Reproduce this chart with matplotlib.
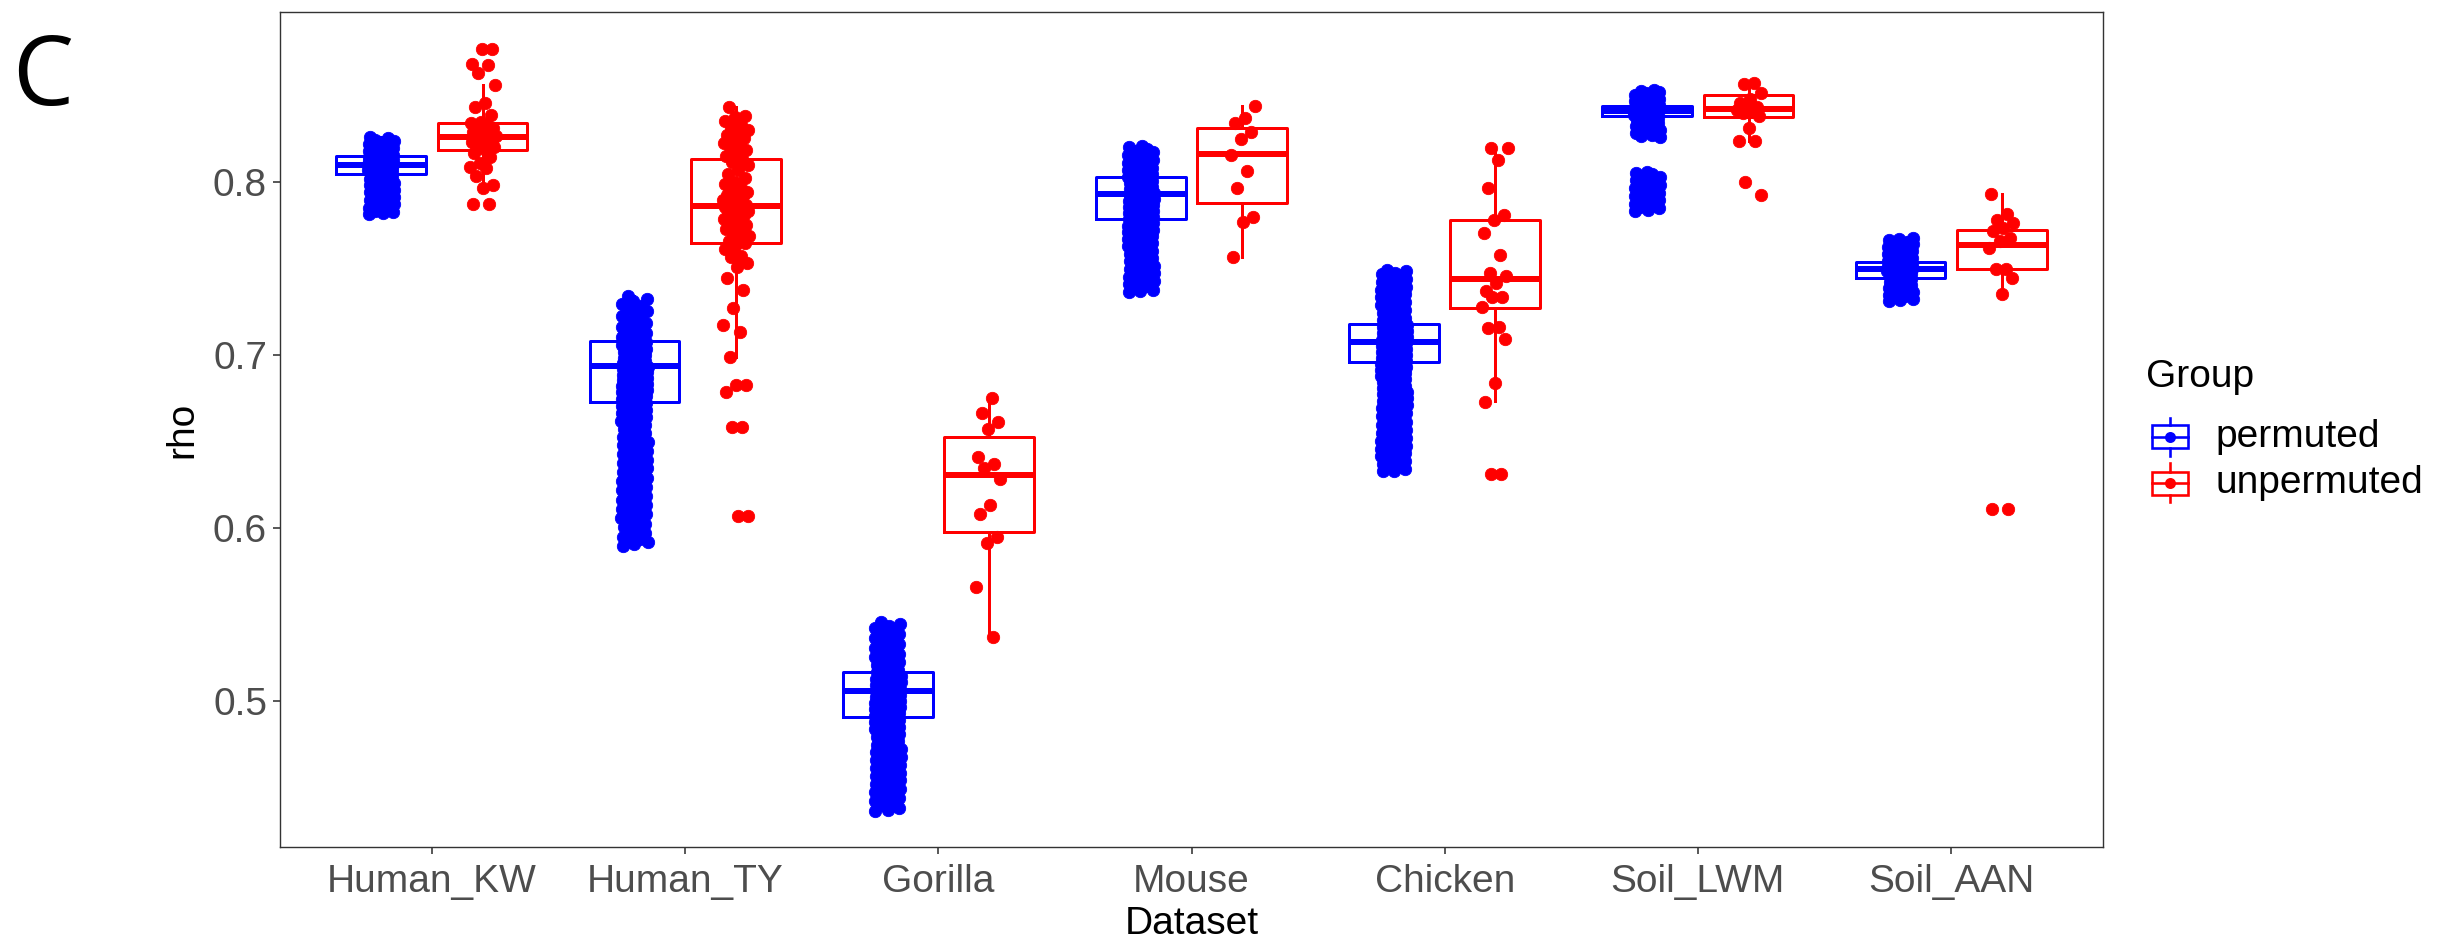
import numpy as np
import matplotlib
matplotlib.use("Agg")
import matplotlib.pyplot as plt
from matplotlib.patches import Rectangle
from matplotlib.lines import Line2D

plt.rcParams['font.family'] = ['Liberation Sans', 'DejaVu Sans']

# ---------------- data ----------------
datasets = ["Human_KW", "Human_TY", "Gorilla", "Mouse", "Chicken", "Soil_LWM", "Soil_AAN"]
groups = ["permuted", "unpermuted"]
group_colors = ["#0000FF", "#FF0000"]
yticks = [0.5, 0.6, 0.7, 0.8]

perm_human_kw = [0.7812, 0.7818, 0.7826, 0.7833, 0.7841, 0.7850, 0.7858, 0.7869, 0.7877, 0.7886, 0.7894,
                 0.7903, 0.7911, 0.7922, 0.7930, 0.7938, 0.7947, 0.7955, 0.7963, 0.7971, 0.7979, 0.7986,
                 0.7994, 0.8001, 0.8008, 0.8014, 0.8021, 0.8027, 0.8033, 0.8039, 0.8044, 0.8049, 0.8054,
                 0.8059, 0.8064, 0.8069, 0.8074, 0.8079, 0.8084, 0.8089, 0.8094, 0.8098, 0.8103, 0.8108,
                 0.8113, 0.8118, 0.8123, 0.8128, 0.8134, 0.8139, 0.8145, 0.8151, 0.8157, 0.8164, 0.8171,
                 0.8178, 0.8186, 0.8194, 0.8202, 0.8211, 0.8219, 0.8228, 0.8236, 0.8244, 0.8251, 0.8258]
perm_human_ty = [0.5897, 0.5905, 0.5916, 0.5928, 0.5937, 0.5949, 0.5958, 0.5970, 0.5981, 0.5990, 0.6002,
                 0.6013, 0.6024, 0.6033, 0.6045, 0.6056, 0.6066, 0.6077, 0.6089, 0.6098, 0.6110, 0.6121,
                 0.6131, 0.6142, 0.6153, 0.6163, 0.6174, 0.6185, 0.6195, 0.6206, 0.6216, 0.6227, 0.6238,
                 0.6248, 0.6259, 0.6269, 0.6280, 0.6290, 0.6301, 0.6311, 0.6322, 0.6332, 0.6343, 0.6353,
                 0.6363, 0.6374, 0.6384, 0.6394, 0.6405, 0.6415, 0.6425, 0.6435, 0.6446, 0.6456, 0.6466,
                 0.6476, 0.6486, 0.6496, 0.6506, 0.6516, 0.6525, 0.6535, 0.6545, 0.6554, 0.6564, 0.6573,
                 0.6583, 0.6592, 0.6601, 0.6611, 0.6620, 0.6629, 0.6638, 0.6647, 0.6656, 0.6664, 0.6673,
                 0.6681, 0.6690, 0.6698, 0.6706, 0.6714, 0.6722, 0.6730, 0.6738, 0.6746, 0.6753, 0.6761,
                 0.6768, 0.6776, 0.6783, 0.6790, 0.6797, 0.6804, 0.6811, 0.6818, 0.6825, 0.6832, 0.6839,
                 0.6845, 0.6852, 0.6859, 0.6865, 0.6872, 0.6878, 0.6885, 0.6891, 0.6898, 0.6904, 0.6911,
                 0.6917, 0.6924, 0.6930, 0.6937, 0.6943, 0.6950, 0.6956, 0.6963, 0.6969, 0.6976, 0.6983,
                 0.6990, 0.6997, 0.7004, 0.7011, 0.7018, 0.7026, 0.7034, 0.7042, 0.7050, 0.7058, 0.7067,
                 0.7076, 0.7085, 0.7094, 0.7104, 0.7114, 0.7125, 0.7136, 0.7147, 0.7159, 0.7171, 0.7184,
                 0.7197, 0.7210, 0.7224, 0.7238, 0.7252, 0.7266, 0.7281, 0.7295, 0.7310, 0.7325, 0.7338]
perm_gorilla = [0.4363, 0.4368, 0.4381, 0.4395, 0.4402, 0.4418, 0.4431, 0.4440, 0.4452, 0.4463, 0.4471,
                0.4482, 0.4493, 0.4502, 0.4512, 0.4521, 0.4531, 0.4540, 0.4549, 0.4558, 0.4567, 0.4576,
                0.4585, 0.4594, 0.4603, 0.4612, 0.4621, 0.4630, 0.4639, 0.4648, 0.4657, 0.4666, 0.4675,
                0.4684, 0.4693, 0.4702, 0.4711, 0.4720, 0.4729, 0.4738, 0.4747, 0.4756, 0.4765, 0.4774,
                0.4783, 0.4792, 0.4801, 0.4809, 0.4818, 0.4826, 0.4835, 0.4843, 0.4851, 0.4859, 0.4867,
                0.4875, 0.4883, 0.4891, 0.4899, 0.4907, 0.4914, 0.4922, 0.4929, 0.4937, 0.4944, 0.4951,
                0.4959, 0.4966, 0.4973, 0.4980, 0.4987, 0.4994, 0.5001, 0.5008, 0.5015, 0.5022, 0.5029,
                0.5036, 0.5043, 0.5050, 0.5057, 0.5064, 0.5071, 0.5078, 0.5085, 0.5092, 0.5099, 0.5106,
                0.5113, 0.5120, 0.5127, 0.5134, 0.5141, 0.5149, 0.5156, 0.5164, 0.5172, 0.5180, 0.5188,
                0.5197, 0.5206, 0.5215, 0.5224, 0.5233, 0.5243, 0.5253, 0.5263, 0.5273, 0.5284, 0.5295,
                0.5306, 0.5317, 0.5328, 0.5339, 0.5350, 0.5362, 0.5373, 0.5385, 0.5397, 0.5409, 0.5421,
                0.5433, 0.5446, 0.5458]
perm_mouse = [0.7363, 0.7368, 0.7377, 0.7389, 0.7398, 0.7407, 0.7416, 0.7425, 0.7434, 0.7443, 0.7452,
              0.7461, 0.7470, 0.7479, 0.7488, 0.7497, 0.7506, 0.7515, 0.7524, 0.7533, 0.7542, 0.7551,
              0.7560, 0.7568, 0.7577, 0.7585, 0.7594, 0.7602, 0.7611, 0.7619, 0.7627, 0.7636, 0.7644,
              0.7652, 0.7660, 0.7668, 0.7676, 0.7684, 0.7692, 0.7700, 0.7708, 0.7716, 0.7723, 0.7731,
              0.7738, 0.7746, 0.7753, 0.7761, 0.7768, 0.7775, 0.7782, 0.7789, 0.7796, 0.7803, 0.7810,
              0.7817, 0.7824, 0.7831, 0.7838, 0.7845, 0.7852, 0.7859, 0.7866, 0.7873, 0.7880, 0.7887,
              0.7894, 0.7901, 0.7908, 0.7915, 0.7922, 0.7929, 0.7936, 0.7943, 0.7950, 0.7957, 0.7964,
              0.7971, 0.7978, 0.7985, 0.7992, 0.7999, 0.8006, 0.8013, 0.8020, 0.8027, 0.8034, 0.8042,
              0.8050, 0.8058, 0.8066, 0.8074, 0.8082, 0.8090, 0.8099, 0.8108, 0.8117, 0.8126, 0.8135,
              0.8144, 0.8153, 0.8162, 0.8171, 0.8180, 0.8189, 0.8198, 0.8204]
perm_chicken = [0.6326, 0.6331, 0.6340, 0.6349, 0.6358, 0.6367, 0.6376, 0.6385, 0.6394, 0.6403, 0.6412,
                0.6421, 0.6430, 0.6439, 0.6448, 0.6457, 0.6466, 0.6475, 0.6484, 0.6493, 0.6502, 0.6511,
                0.6520, 0.6529, 0.6538, 0.6547, 0.6556, 0.6565, 0.6574, 0.6583, 0.6592, 0.6601, 0.6612,
                0.6625, 0.6638, 0.6648, 0.6657, 0.6666, 0.6675, 0.6684, 0.6692, 0.6700, 0.6708, 0.6716,
                0.6724, 0.6732, 0.6740, 0.6748, 0.6756, 0.6764, 0.6771, 0.6779, 0.6786, 0.6794, 0.6801,
                0.6808, 0.6815, 0.6822, 0.6829, 0.6836, 0.6843, 0.6850, 0.6857, 0.6864, 0.6871, 0.6878,
                0.6885, 0.6892, 0.6899, 0.6906, 0.6913, 0.6920, 0.6927, 0.6934, 0.6941, 0.6948, 0.6955,
                0.6962, 0.6969, 0.6976, 0.6983, 0.6990, 0.6997, 0.7004, 0.7011, 0.7018, 0.7025, 0.7032,
                0.7039, 0.7046, 0.7053, 0.7060, 0.7067, 0.7074, 0.7081, 0.7088, 0.7095, 0.7102, 0.7109,
                0.7116, 0.7123, 0.7130, 0.7137, 0.7144, 0.7151, 0.7158, 0.7166, 0.7174, 0.7182, 0.7190,
                0.7198, 0.7206, 0.7214, 0.7223, 0.7232, 0.7241, 0.7250, 0.7259, 0.7268, 0.7277, 0.7286,
                0.7295, 0.7304, 0.7313, 0.7322, 0.7331, 0.7340, 0.7349, 0.7358, 0.7367, 0.7376, 0.7385,
                0.7394, 0.7403, 0.7412, 0.7421, 0.7430, 0.7439, 0.7448, 0.7457, 0.7466, 0.7475, 0.7484,
                0.7491]
perm_soil_lwm = [0.7831, 0.7838, 0.7847, 0.7856, 0.7865, 0.7874, 0.7883, 0.7892, 0.7901, 0.7910, 0.7919,
                 0.7928, 0.7937, 0.7946, 0.7955, 0.7964, 0.7973, 0.7982, 0.7991, 0.8000, 0.8009, 0.8018,
                 0.8027, 0.8036, 0.8045, 0.8052, 0.8057,
                 0.8256, 0.8262, 0.8271, 0.8280, 0.8289, 0.8298, 0.8306, 0.8314, 0.8322, 0.8330, 0.8337,
                 0.8344, 0.8351, 0.8357, 0.8363, 0.8369, 0.8374, 0.8379, 0.8384, 0.8389, 0.8394, 0.8399,
                 0.8404, 0.8409, 0.8414, 0.8419, 0.8424, 0.8429, 0.8434, 0.8439, 0.8445, 0.8451, 0.8457,
                 0.8464, 0.8471, 0.8478, 0.8486, 0.8494, 0.8502, 0.8510, 0.8518, 0.8526, 0.8533]
perm_soil_aan = [0.7310, 0.7316, 0.7324, 0.7332, 0.7340, 0.7348, 0.7356, 0.7364, 0.7372, 0.7380, 0.7387,
                 0.7394, 0.7401, 0.7408, 0.7415, 0.7422, 0.7429, 0.7435, 0.7441, 0.7447, 0.7453, 0.7459,
                 0.7465, 0.7471, 0.7477, 0.7483, 0.7489, 0.7495, 0.7501, 0.7507, 0.7513, 0.7519, 0.7525,
                 0.7531, 0.7537, 0.7544, 0.7551, 0.7558, 0.7566, 0.7574, 0.7582, 0.7590, 0.7598, 0.7606,
                 0.7614, 0.7622, 0.7630, 0.7638, 0.7646, 0.7654, 0.7662, 0.7670, 0.7677]

unperm_human_kw = [0.8767, 0.8765, 0.8680, 0.8672, 0.8627, 0.8560, 0.8454, 0.8431, 0.8386, 0.8347,
                   0.8342, 0.8330, 0.8325, 0.8310, 0.8298, 0.8290, 0.8281, 0.8270, 0.8262, 0.8255,
                   0.8250, 0.8243, 0.8236, 0.8228, 0.8220, 0.8212, 0.8200, 0.8190, 0.8165, 0.8145,
                   0.8110, 0.8087, 0.8078, 0.8034, 0.7981, 0.7962, 0.7872, 0.7870]
unperm_human_ty = [0.8434, 0.8380, 0.8373, 0.8352, 0.8326, 0.8310, 0.8297, 0.8282, 0.8270, 0.8255,
                   0.8240, 0.8225, 0.8215, 0.8200, 0.8185, 0.8170, 0.8150, 0.8134, 0.8113, 0.8095,
                   0.8070, 0.8045, 0.8020, 0.8000, 0.7985, 0.7966, 0.7950, 0.7940, 0.7938, 0.7925,
                   0.7915, 0.7905, 0.7895, 0.7885, 0.7875, 0.7868, 0.7860, 0.7852, 0.7845, 0.7838,
                   0.7830, 0.7822, 0.7812, 0.7805, 0.7795, 0.7785, 0.7775, 0.7762, 0.7750, 0.7735,
                   0.7724, 0.7715, 0.7700, 0.7685, 0.7670, 0.7655, 0.7648, 0.7630, 0.7610, 0.7570,
                   0.7567, 0.7529, 0.7509, 0.7443, 0.7375, 0.7268, 0.7172, 0.7134, 0.6989, 0.6826,
                   0.6826, 0.6782, 0.6584, 0.6584, 0.6068, 0.6066]
unperm_gorilla = [0.6749, 0.6665, 0.6613, 0.6569, 0.6407, 0.6369, 0.6344, 0.6280, 0.6132, 0.6080,
                  0.5945, 0.5910, 0.5656, 0.5370]
unperm_mouse = [0.8438, 0.8367, 0.8338, 0.8290, 0.8246, 0.8155, 0.8064, 0.7962, 0.7795, 0.7769, 0.7567]
unperm_chicken = [0.8194, 0.8194, 0.8126, 0.7962, 0.7808, 0.7779, 0.7702, 0.7577, 0.7475, 0.7455,
                  0.7413, 0.7370, 0.7332, 0.7332, 0.7274, 0.7159, 0.7153, 0.7090, 0.6834, 0.6728,
                  0.6312, 0.6312]
unperm_soil_lwm = [0.8570, 0.8565, 0.8510, 0.8480, 0.8454, 0.8434, 0.8425, 0.8415, 0.8410, 0.8396,
                   0.8380, 0.8310, 0.8238, 0.8238, 0.8000, 0.7924]
unperm_soil_aan = [0.7931, 0.7814, 0.7780, 0.7760, 0.7730, 0.7716, 0.7673, 0.7655, 0.7617, 0.7496,
                   0.7496, 0.7446, 0.7349, 0.6109, 0.6109]

# box statistics (order follows `datasets`)
perm_q1 = [0.8045, 0.6729, 0.4908, 0.7785, 0.6961, 0.8380, 0.7446]
perm_med = [0.8097, 0.6937, 0.5057, 0.7928, 0.7072, 0.8410, 0.7496]
perm_q3 = [0.8150, 0.7082, 0.5165, 0.8030, 0.7179, 0.8440, 0.7534]
perm_whislo = [0.7812, 0.6200, 0.4525, 0.7420, 0.6640, 0.8290, 0.7314]
perm_whishi = [0.8258, 0.7338, 0.5458, 0.8204, 0.7491, 0.8530, 0.7662]

unperm_q1 = [0.8184, 0.7648, 0.5978, 0.7879, 0.7268, 0.8373, 0.7495]
unperm_med = [0.8257, 0.7862, 0.6305, 0.8161, 0.7435, 0.8421, 0.7637]
unperm_q3 = [0.8342, 0.8130, 0.6527, 0.8309, 0.7779, 0.8502, 0.7723]
unperm_whislo = [0.7962, 0.6989, 0.5370, 0.7567, 0.6734, 0.8238, 0.7349]
unperm_whishi = [0.8560, 0.8434, 0.6749, 0.8438, 0.8194, 0.8570, 0.7931]

perm_points = [perm_human_kw, perm_human_ty, perm_gorilla, perm_mouse, perm_chicken, perm_soil_lwm, perm_soil_aan]
unperm_points = [unperm_human_kw, unperm_human_ty, unperm_gorilla, unperm_mouse, unperm_chicken,
                 unperm_soil_lwm, unperm_soil_aan]

# ---------------- figure ----------------
W, H, DPI = 2437, 940, 100
fig = plt.figure(figsize=(W / DPI, H / DPI), dpi=DPI)
fig.patch.set_facecolor("white")
L, R, T, B = 280, 2103, 12, 847
ax = fig.add_axes([L / W, 1 - B / H, (R - L) / W, (B - T) / H])
ax.set_xlim(0.4, 7.6)
ax.set_ylim(0.4155, 0.8981)

DODGE = 0.2
BOXW = 0.355
JW = 0.052
PT = 72 / DPI  # points per pixel
MARKER_PX = 12.4
LANES = np.array([-1.0, 0.0, 1.0, -0.5, 0.5])

group_data = [
    (perm_points, perm_q1, perm_med, perm_q3, perm_whislo, perm_whishi),
    (unperm_points, unperm_q1, unperm_med, unperm_q3, unperm_whislo, unperm_whishi),
]

for g, (pts, q1, med, q3, wlo, whi) in enumerate(group_data):
    color = group_colors[g]
    off = -DODGE if g == 0 else DODGE
    positions = [i + 1 + off for i in range(len(datasets))]
    stats = [dict(q1=q1[i], med=med[i], q3=q3[i], whislo=wlo[i], whishi=whi[i], fliers=[])
             for i in range(len(datasets))]
    ax.bxp(stats, positions=positions, widths=BOXW, showfliers=False, showcaps=False,
           manage_ticks=False,
           boxprops=dict(color=color, linewidth=3.0 * PT),
           whiskerprops=dict(color=color, linewidth=3.0 * PT),
           medianprops=dict(color=color, linewidth=6.0 * PT, solid_capstyle="butt"),
           zorder=2)
    for i, vals in enumerate(pts):
        vals = np.asarray(vals)
        k = np.arange(len(vals))
        frac = (k * 0.6180339887 + 0.37 * (i + 1) + 0.5 * g) % 1.0
        if g == 0:
            # dense cloud: spread over fixed lanes with a small deterministic wobble
            rel = LANES[k % len(LANES)] * 0.9 + 0.2 * (frac - 0.5)
        else:
            rel = 2 * frac - 1
        xs = positions[i] + JW * rel
        ax.scatter(xs, vals, s=(MARKER_PX * PT) ** 2, facecolor=color, edgecolor=color,
                   linewidths=0.8 * PT, zorder=3)

ax.set_xticks(range(1, len(datasets) + 1))
ax.set_xticklabels(datasets)
ax.set_yticks(yticks)
ax.set_yticklabels([f"{v:.1f}" for v in yticks])
ax.tick_params(axis="both", length=7 * PT, width=1.6 * PT, color="#333333",
               labelcolor="#4D4D4D", labelsize=28)
ax.tick_params(axis="x", pad=7.5)
ax.tick_params(axis="y", pad=4.3)
for s in ax.spines.values():
    s.set_color("#333333")
    s.set_linewidth(1.4 * PT)

ax.set_xlabel("Dataset", fontsize=28, color="black")
ax.xaxis.set_label_coords(0.5, (B - 934) / (B - T))
ax.xaxis.label.set_va("baseline")
ax.set_ylabel("rho", fontsize=28, color="black")
ax.yaxis.set_label_coords((182 - L) / (R - L), 0.5)
ax.yaxis.label.set_va("center")

# panel tag
fig.text(12 / W, 1 - 105 / H, "C", fontsize=70, family=["Open Sans", "DejaVu Sans"],
         ha="left", va="baseline", color="black")

# legend (drawn manually in figure pixel coordinates)
def fx(x):
    return x / W

def fy(y):
    return 1 - y / H

fig.text(fx(2146), fy(387), "Group", fontsize=28, ha="left", va="baseline", color="black")
key_y = [437, 483]
for g, name in enumerate(groups):
    c = group_colors[g]
    cy = key_y[g]
    x0, x1 = 2152, 2188
    cx = (x0 + x1) / 2
    fig.add_artist(Rectangle((fx(x0), fy(cy + 11.5)), (x1 - x0) / W, 23 / H,
                             transform=fig.transFigure, fill=False, edgecolor=c, linewidth=2.6 * PT))
    fig.add_artist(Line2D([fx(x0), fx(x1)], [fy(cy), fy(cy)], transform=fig.transFigure,
                          color=c, linewidth=2.6 * PT))
    fig.add_artist(Line2D([fx(cx), fx(cx)], [fy(cy - 19.5), fy(cy - 11.5)], transform=fig.transFigure,
                          color=c, linewidth=2.6 * PT))
    fig.add_artist(Line2D([fx(cx), fx(cx)], [fy(cy + 11.5), fy(cy + 19.5)], transform=fig.transFigure,
                          color=c, linewidth=2.6 * PT))
    fig.add_artist(Line2D([fx(cx)], [fy(cy)], transform=fig.transFigure, marker="o",
                          markersize=11 * PT, color=c, markeredgewidth=0, linestyle="none"))
    fig.text(fx(2215), fy(cy), name, fontsize=28, ha="left", va="center", color="black")

fig.savefig("out.png", dpi=DPI, facecolor="white")
